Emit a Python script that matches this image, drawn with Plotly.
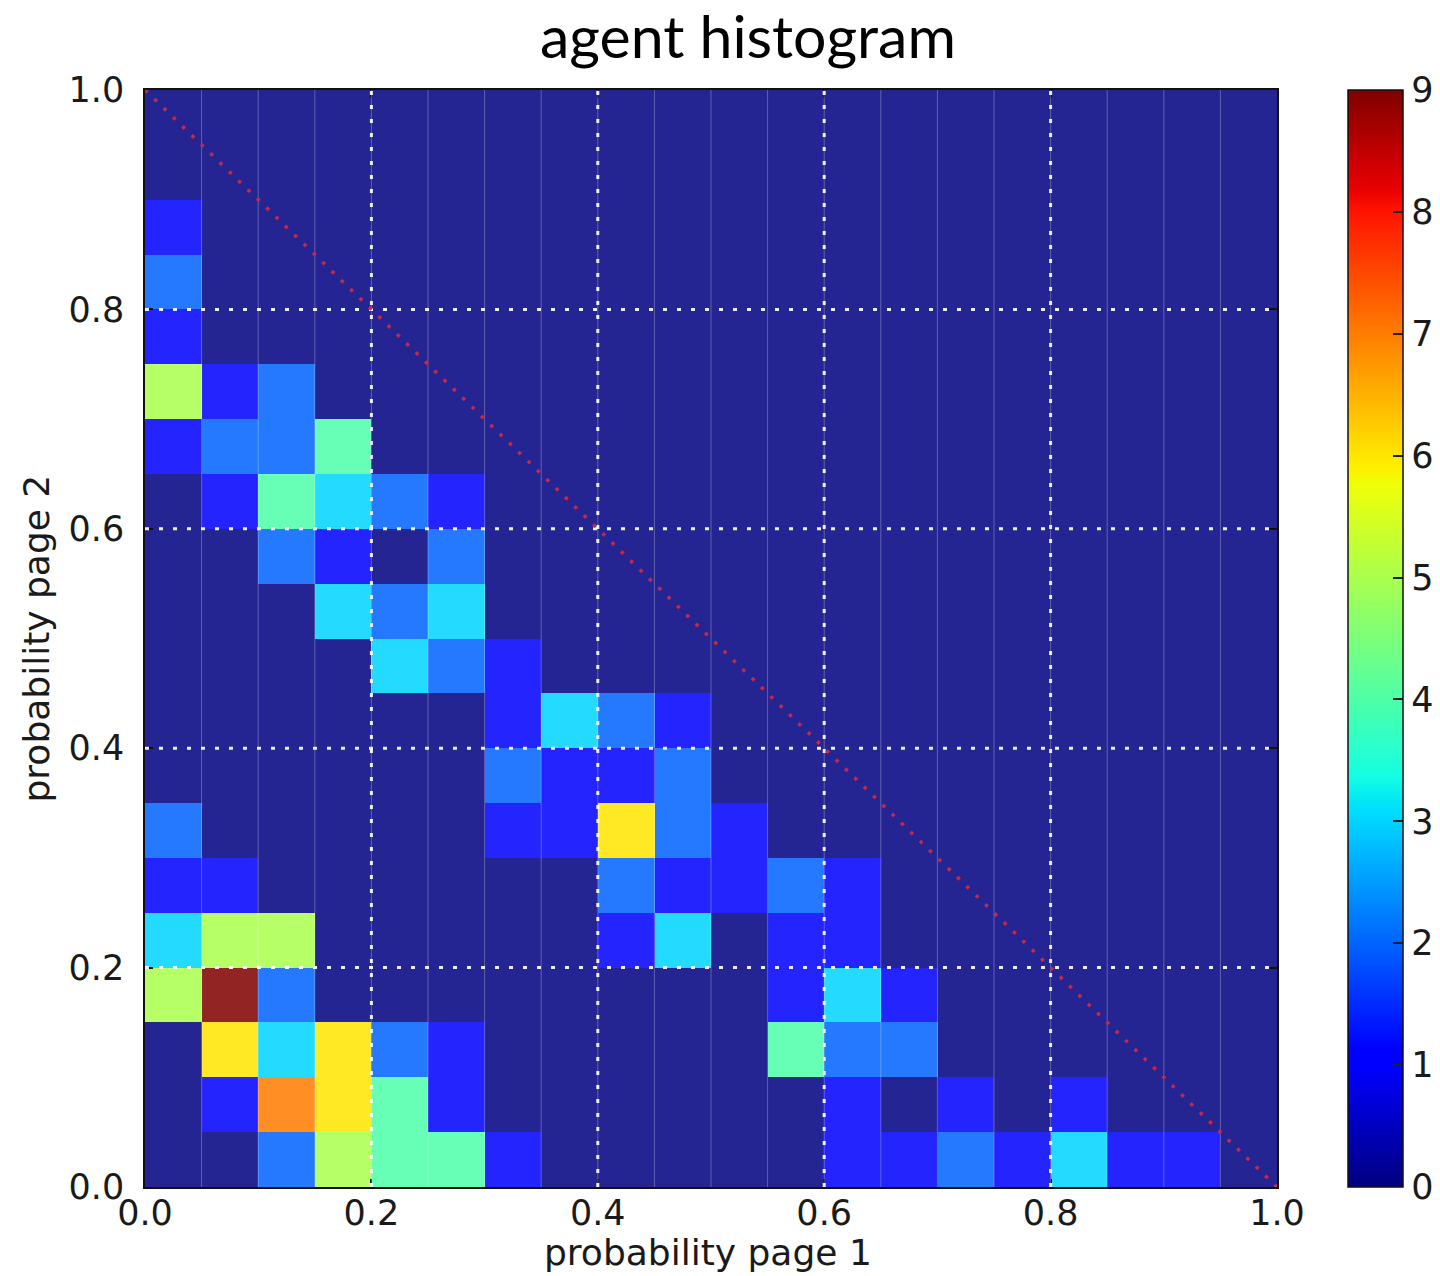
import plotly.graph_objects as go
import numpy as np

# 2D histogram of agent choices: 20 x 20 bins on [0, 1] x [0, 1]
bin_edges = [0.00, 0.05, 0.10, 0.15, 0.20, 0.25, 0.30, 0.35, 0.40, 0.45, 0.50,
             0.55, 0.60, 0.65, 0.70, 0.75, 0.80, 0.85, 0.90, 0.95, 1.00]

# counts[j][i]: row j = page-2 bin (bottom to top), column i = page-1 bin
counts = [
    [0, 0, 2, 5, 4, 4, 1, 0, 0, 0, 0, 0, 1, 1, 2, 1, 3, 1, 1, 0],  # 0.00-0.05
    [0, 1, 7, 6, 4, 1, 0, 0, 0, 0, 0, 0, 1, 0, 1, 0, 1, 0, 0, 0],  # 0.05-0.10
    [0, 6, 3, 6, 2, 1, 0, 0, 0, 0, 0, 4, 2, 2, 0, 0, 0, 0, 0, 0],  # 0.10-0.15
    [5, 9, 2, 0, 0, 0, 0, 0, 0, 0, 0, 1, 3, 1, 0, 0, 0, 0, 0, 0],  # 0.15-0.20
    [3, 5, 5, 0, 0, 0, 0, 0, 1, 3, 0, 1, 1, 0, 0, 0, 0, 0, 0, 0],  # 0.20-0.25
    [1, 1, 0, 0, 0, 0, 0, 0, 2, 1, 1, 2, 1, 0, 0, 0, 0, 0, 0, 0],  # 0.25-0.30
    [2, 0, 0, 0, 0, 0, 1, 1, 6, 2, 1, 0, 0, 0, 0, 0, 0, 0, 0, 0],  # 0.30-0.35
    [0, 0, 0, 0, 0, 0, 2, 1, 1, 2, 0, 0, 0, 0, 0, 0, 0, 0, 0, 0],  # 0.35-0.40
    [0, 0, 0, 0, 0, 0, 1, 3, 2, 1, 0, 0, 0, 0, 0, 0, 0, 0, 0, 0],  # 0.40-0.45
    [0, 0, 0, 0, 3, 2, 1, 0, 0, 0, 0, 0, 0, 0, 0, 0, 0, 0, 0, 0],  # 0.45-0.50
    [0, 0, 0, 3, 2, 3, 0, 0, 0, 0, 0, 0, 0, 0, 0, 0, 0, 0, 0, 0],  # 0.50-0.55
    [0, 0, 2, 1, 0, 2, 0, 0, 0, 0, 0, 0, 0, 0, 0, 0, 0, 0, 0, 0],  # 0.55-0.60
    [0, 1, 4, 3, 2, 1, 0, 0, 0, 0, 0, 0, 0, 0, 0, 0, 0, 0, 0, 0],  # 0.60-0.65
    [1, 2, 2, 4, 0, 0, 0, 0, 0, 0, 0, 0, 0, 0, 0, 0, 0, 0, 0, 0],  # 0.65-0.70
    [5, 1, 2, 0, 0, 0, 0, 0, 0, 0, 0, 0, 0, 0, 0, 0, 0, 0, 0, 0],  # 0.70-0.75
    [1, 0, 0, 0, 0, 0, 0, 0, 0, 0, 0, 0, 0, 0, 0, 0, 0, 0, 0, 0],  # 0.75-0.80
    [2, 0, 0, 0, 0, 0, 0, 0, 0, 0, 0, 0, 0, 0, 0, 0, 0, 0, 0, 0],  # 0.80-0.85
    [1, 0, 0, 0, 0, 0, 0, 0, 0, 0, 0, 0, 0, 0, 0, 0, 0, 0, 0, 0],  # 0.85-0.90
    [0, 0, 0, 0, 0, 0, 0, 0, 0, 0, 0, 0, 0, 0, 0, 0, 0, 0, 0, 0],  # 0.90-0.95
    [0, 0, 0, 0, 0, 0, 0, 0, 0, 0, 0, 0, 0, 0, 0, 0, 0, 0, 0, 0],  # 0.95-1.00
]

axis_ticks = [0.0, 0.2, 0.4, 0.6, 0.8, 1.0]
axis_tick_text = ["0.0", "0.2", "0.4", "0.6", "0.8", "1.0"]
cbar_ticks = [0, 1, 2, 3, 4, 5, 6, 7, 8, 9]
count_max = 9

# matplotlib "jet" colormap, rebuilt from its segment data
_jet_seg = {
    "r": [(0, 0), (0.35, 0), (0.66, 1), (0.89, 1), (1, 0.5)],
    "g": [(0, 0), (0.125, 0), (0.375, 1), (0.64, 1), (0.91, 0), (1, 0)],
    "b": [(0, 0.5), (0.11, 1), (0.34, 1), (0.65, 0), (1, 0)],
}
_stops = sorted({p for seg in _jet_seg.values() for p, _ in seg})


def _channel(name, t):
    xs, ys = zip(*_jet_seg[name])
    return float(np.interp(t, xs, ys))


jet = [[t, "rgb(%d,%d,%d)" % tuple(round(255 * _channel(c, t)) for c in "rgb")]
       for t in _stops]

FONT = "DejaVu Sans"
TICK_SIZE = 35
LABEL_SIZE = 36

# plot area in pixels
PL, PR, PT, PB = 145, 1277, 90, 1187
PW, PH = PR - PL, PB - PT

fig = go.Figure()

fig.add_trace(go.Heatmap(
    x=bin_edges,
    y=bin_edges,
    z=counts,
    zmin=0,
    zmax=count_max,
    colorscale=jet,
    opacity=0.86,
    hoverongaps=False,
    colorbar=dict(
        x=(1348 - PL) / PW,
        xanchor="left",
        xpad=0,
        y=0.5,
        yanchor="middle",
        len=1.0,
        lenmode="fraction",
        ypad=0,
        thickness=55,
        thicknessmode="pixels",
        outlinecolor="#111111",
        outlinewidth=1.5,
        tickvals=cbar_ticks,
        ticktext=[str(v) for v in cbar_ticks],
        ticks="inside",
        ticklen=10,
        tickwidth=1.5,
        tickcolor="#222222",
        tickfont=dict(family=FONT, size=TICK_SIZE, color="#1a1a1a"),
    ),
))

shapes = []
# faint seams between neighbouring histogram columns
for e in bin_edges[1:-1]:
    shapes.append(dict(type="line", xref="x", yref="y", x0=e, x1=e, y0=0, y1=1,
                       line=dict(color="rgba(255,255,255,0.28)", width=1),
                       layer="above"))
# dotted white grid at the major ticks
grid_line = dict(color="rgba(255,255,255,0.92)", width=3, dash="4px,10px")
for t in axis_ticks[1:-1]:
    shapes.append(dict(type="line", xref="x", yref="y", x0=t, x1=t, y0=0, y1=1,
                       line=grid_line, layer="above"))
    shapes.append(dict(type="line", xref="x", yref="y", x0=0, x1=1, y0=t, y1=t,
                       line=grid_line, layer="above"))
# p1 + p2 = 1 reference diagonal
shapes.append(dict(type="line", xref="x", yref="y", x0=0, y0=1, x1=1, y1=0,
                   line=dict(color="#c42a48", width=3.5, dash="3.5px,9.5px"),
                   layer="above"))

axis_common = dict(
    range=[0, 1],
    tickvals=axis_ticks,
    ticktext=axis_tick_text,
    showgrid=False,
    zeroline=False,
    showline=True,
    linecolor="#111111",
    linewidth=1.5,
    mirror="allticks",
    ticks="inside",
    ticklen=8,
    tickwidth=1.5,
    tickcolor="#111111",
    tickfont=dict(family=FONT, size=TICK_SIZE, color="#1a1a1a"),
)

fig.update_layout(
    width=1440,
    height=1276,
    margin=dict(l=PL, r=1440 - PR, t=PT, b=1276 - PB, pad=0, autoexpand=False),
    paper_bgcolor="white",
    plot_bgcolor="white",
    xaxis=dict(axis_common, ticklabelstandoff=-6),
    yaxis=dict(axis_common, ticklabelstandoff=12),
    shapes=shapes,
    title=dict(
        text="agent histogram",
        x=748 / 1440,
        xanchor="center",
        y=1 - 37 / 1276,
        yanchor="middle",
        font=dict(family="Lato", size=59, color="#000000"),
    ),
    annotations=[
        dict(text="probability page 1", xref="paper", yref="paper",
             x=(708 - PL) / PW, y=-(1252 - PB) / PH, xanchor="center",
             yanchor="middle", showarrow=False,
             font=dict(family=FONT, size=LABEL_SIZE, color="#1a1a1a")),
        dict(text="probability page 2", xref="paper", yref="paper",
             x=-(PL - 36) / PW, y=0.5, xanchor="center", yanchor="middle",
             textangle=-90, showarrow=False,
             font=dict(family=FONT, size=LABEL_SIZE, color="#1a1a1a")),
    ],
)

fig.write_html("out.html")
